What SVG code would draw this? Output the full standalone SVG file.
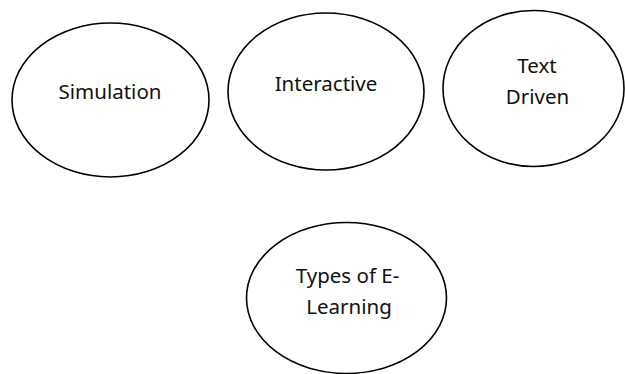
<svg xmlns="http://www.w3.org/2000/svg" width="625" height="374" viewBox="0 0 625 374">
<style>
.n{fill:#fff;stroke:#000;stroke-width:1.6}
.t{font-family:"Noto Sans","Open Sans",sans-serif;font-size:20.5px;fill:#111;text-anchor:middle}
</style>
<rect width="625" height="374" fill="#fff"/>
<g id="connectors"></g>
<g id="simulation"><ellipse class="n" cx="110.5" cy="100" rx="98.5" ry="77"/><text class="t" x="110" y="99">Simulation</text></g>
<g id="interactive"><ellipse class="n" cx="326" cy="91.5" rx="98" ry="78.5"/><text class="t" x="326" y="90.5">Interactive</text></g>
<g id="text-driven"><ellipse class="n" cx="533.5" cy="88.5" rx="90.5" ry="78"/><text class="t" x="537" y="72.5">Text</text><text class="t" x="537.5" y="103.5">Driven</text></g>
<g id="types"><ellipse class="n" cx="346.5" cy="298" rx="100" ry="75.5"/><text class="t" x="347.5" y="283">Types of E-</text><text class="t" x="349" y="314">Learning</text></g>
</svg>
